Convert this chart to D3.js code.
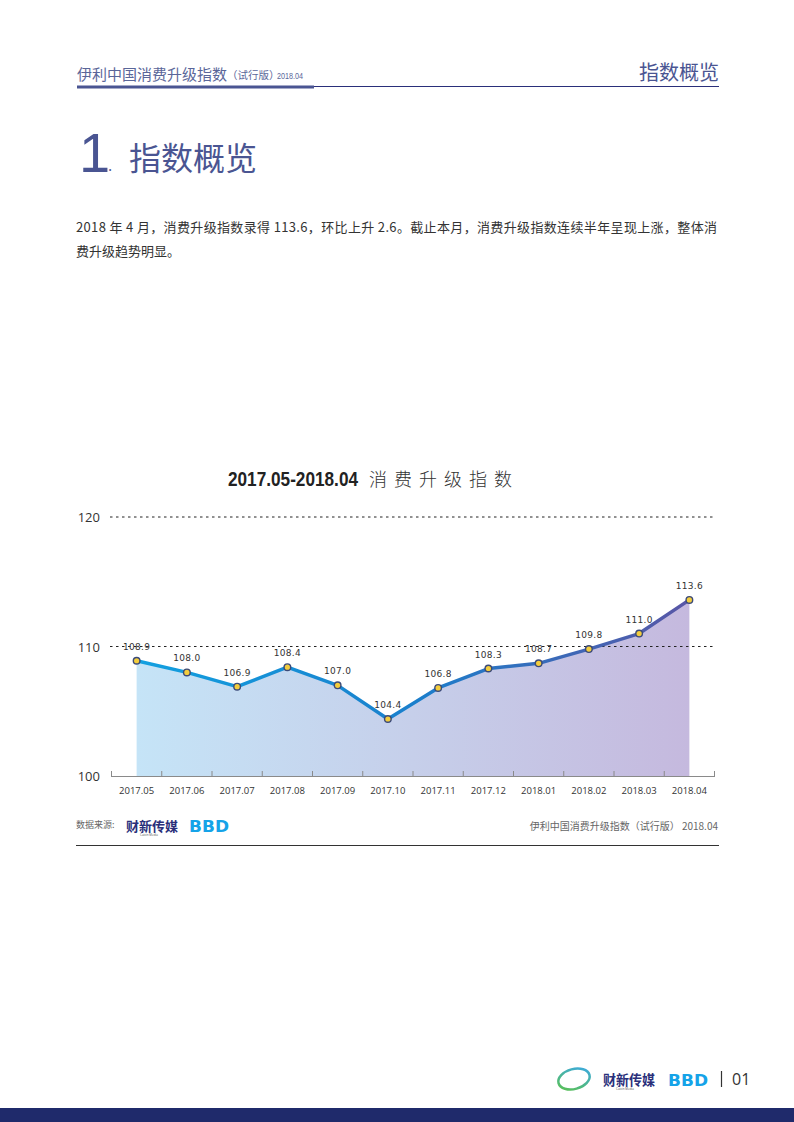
<!DOCTYPE html>
<html><head><meta charset="utf-8">
<script src="https://cdn.jsdelivr.net/npm/d3@7/dist/d3.min.js"></script>
<style>
html,body{margin:0;padding:0;background:#fff;}
svg{display:block;}
</style></head>
<body>
<svg id="page" width="794" height="1122"></svg>
<script>
const months = ["2017.05","2017.06","2017.07","2017.08","2017.09","2017.10","2017.11","2017.12","2018.01","2018.02","2018.03","2018.04"];
const values = [108.9,108.0,106.9,108.4,107.0,104.4,106.8,108.3,108.7,109.8,111.0,113.6];
const yTicks = [100,110,120];

const svg = d3.select("#page");
const CJK = "'Noto Sans CJK SC','Noto Sans',sans-serif";
const NUM = "'Open Sans','Noto Sans',sans-serif";
const navy = "#4a5592";

// ---------- header ----------
svg.append("text").attr("x",77).attr("y",80).attr("font-family",CJK).attr("font-size",15)
  .attr("fill","#5a6699").text("伊利中国消费升级指数");
svg.append("text").attr("x",227).attr("y",79).attr("font-family",CJK).attr("font-size",10.5)
  .attr("fill","#5a6699").text("（试行版）");
svg.append("text").attr("x",277).attr("y",79).attr("font-family","'Liberation Sans Narrow','Liberation Sans',sans-serif").attr("font-size",9)
  .attr("fill","#5a6699").attr("textLength",26).attr("lengthAdjust","spacingAndGlyphs").text("2018.04");
svg.append("rect").attr("x",77).attr("y",85.5).attr("width",237).attr("height",3).attr("fill","#4a5592");
svg.append("line").attr("x1",314).attr("x2",719).attr("y1",86.5).attr("y2",86.5).attr("stroke","#2a2f7a").attr("stroke-width",1.2);
svg.append("text").attr("x",719).attr("y",80).attr("text-anchor","end").attr("font-family",CJK).attr("font-size",20)
  .attr("fill",navy).text("指数概览");

// ---------- section title ----------
svg.append("text").attr("x",79).attr("y",172).attr("font-family","'Liberation Sans',sans-serif").attr("font-size",56)
  .attr("fill",navy).text("1");
svg.append("text").attr("x",108).attr("y",171).attr("font-family",NUM).attr("font-size",16)
  .attr("fill",navy).text(".");
svg.append("text").attr("x",129).attr("y",170).attr("font-family",CJK).attr("font-size",32)
  .attr("fill",navy).text("指数概览");

// ---------- body ----------
svg.append("text").attr("x",76).attr("y",232).attr("font-family",CJK).attr("font-size",13)
  .attr("fill","#333").attr("textLength",641).attr("lengthAdjust","spacing")
  .text("2018 年 4 月，消费升级指数录得 113.6，环比上升 2.6。截止本月，消费升级指数连续半年呈现上涨，整体消");
svg.append("text").attr("x",76).attr("y",256).attr("font-family",CJK).attr("font-size",13)
  .attr("fill","#333").text("费升级趋势明显。");

// ---------- chart title ----------
svg.append("text").attr("x",228).attr("y",486).attr("font-family","'Liberation Sans Narrow','Liberation Sans',sans-serif").attr("font-weight","bold")
  .attr("font-size",20).attr("fill","#222").attr("textLength",130).attr("lengthAdjust","spacingAndGlyphs")
  .text("2017.05-2018.04");
svg.append("text").attr("x",369).attr("y",486).attr("font-family",CJK).attr("font-weight",300)
  .attr("font-size",18).attr("letter-spacing",7).attr("fill","#333").text("消费升级指数");

// ---------- chart ----------
const x = d3.scaleBand().domain(months).range([111.5,714.5]);
const y = d3.scaleLinear().domain([100,120]).range([776,517]);
const cx = d => x(d) + x.bandwidth()/2;

const defs = svg.append("defs");
const ag = defs.append("linearGradient").attr("id","areaG").attr("gradientUnits","userSpaceOnUse")
  .attr("x1",cx(months[0])).attr("x2",cx(months[11])).attr("y1",0).attr("y2",0);
ag.append("stop").attr("offset","0%").attr("stop-color","#c5e4f7");
ag.append("stop").attr("offset","50%").attr("stop-color","#c6cfea");
ag.append("stop").attr("offset","100%").attr("stop-color","#c5b9de");
const lg = defs.append("linearGradient").attr("id","lineG").attr("gradientUnits","userSpaceOnUse")
  .attr("x1",cx(months[0])).attr("x2",cx(months[11])).attr("y1",0).attr("y2",0);
lg.append("stop").attr("offset","0%").attr("stop-color","#12a0e0");
lg.append("stop").attr("offset","50%").attr("stop-color","#1a7fcc");
lg.append("stop").attr("offset","100%").attr("stop-color","#5956a6");

const data = months.map((m,i)=>({m, v: values[i]}));

svg.append("path").datum(data)
  .attr("d", d3.area().x(d=>cx(d.m)).y0(y(100)).y1(d=>y(d.v)))
  .attr("fill","url(#areaG)");

// gridlines
svg.append("g").selectAll("line").data(yTicks.filter(t=>t>100)).join("line")
  .attr("x1",110).attr("x2",714).attr("y1",d=>y(d)).attr("y2",d=>y(d))
  .attr("stroke","#222").attr("stroke-width",1).attr("stroke-dasharray","2.5,3.5");

// y labels
svg.append("g").selectAll("text").data(yTicks).join("text")
  .attr("x",100).attr("y",d=>y(d)+5).attr("text-anchor","end")
  .attr("font-family",NUM).attr("font-size",13).attr("fill","#333").text(d=>d);

// x axis
const xAxis = d3.axisBottom(x).tickSize(0).tickPadding(0);
const gx = svg.append("g").attr("transform",`translate(0,${y(100)})`).call(xAxis);
gx.select(".domain").remove();
gx.selectAll("text").attr("font-family",NUM).attr("font-size",9.5).attr("fill","#333").attr("dy",0).attr("y",18);
svg.append("line").attr("x1",111).attr("x2",715).attr("y1",776.5).attr("y2",776.5).attr("stroke","#8a8a8a").attr("stroke-width",1.2);
const tickXs = months.map(m=>x(m)).concat([x(months[11])+x.bandwidth()]);
svg.append("g").selectAll("line").data(tickXs).join("line")
  .attr("x1",d=>d).attr("x2",d=>d).attr("y1",771).attr("y2",776.5).attr("stroke","#8a8a8a").attr("stroke-width",1);

// line
svg.append("path").datum(data)
  .attr("d", d3.line().x(d=>cx(d.m)).y(d=>y(d.v)))
  .attr("fill","none").attr("stroke","url(#lineG)").attr("stroke-width",3.5).attr("stroke-linejoin","round");

// markers
svg.append("g").selectAll("circle").data(data).join("circle")
  .attr("cx",d=>cx(d.m)).attr("cy",d=>y(d.v)).attr("r",3.3)
  .attr("fill","#f3cd3d").attr("stroke","#3b4a78").attr("stroke-width",1.4);

// value labels
svg.append("g").selectAll("text").data(data).join("text")
  .attr("x",d=>cx(d.m)).attr("y",d=>y(d.v)-11).attr("text-anchor","middle")
  .attr("font-family","'DejaVu Sans',sans-serif").attr("font-size",9).attr("letter-spacing",0.3)
  .attr("fill","#333").text(d=>d.v.toFixed(1));

// ---------- source row ----------
svg.append("text").attr("x",76).attr("y",828).attr("font-family",CJK).attr("font-size",9)
  .attr("fill","#666").text("数据来源:");
svg.append("text").attr("x",126).attr("y",831).attr("font-family",CJK).attr("font-weight","bold").attr("font-size",13)
  .attr("fill","#2a2f7a").attr("textLength",52).attr("lengthAdjust","spacingAndGlyphs").text("财新传媒");
svg.append("text").attr("x",140).attr("y",836).attr("font-family",NUM).attr("font-size",3)
  .attr("fill","#555").text("Caixin Media");
svg.append("text").attr("x",189).attr("y",832).attr("font-family","'DejaVu Sans',sans-serif").attr("font-weight","bold").attr("font-size",16)
  .attr("fill","#15a3e8").attr("textLength",40).attr("lengthAdjust","spacingAndGlyphs").text("BBD");
svg.append("text").attr("x",718).attr("y",830).attr("text-anchor","end").attr("font-family",CJK).attr("font-size",10)
  .attr("fill","#666").text("伊利中国消费升级指数（试行版） 2018.04");
svg.append("line").attr("x1",76).attr("x2",719).attr("y1",845.5).attr("y2",845.5).attr("stroke","#333").attr("stroke-width",1.2);

// ---------- footer ----------
const eg = defs.append("linearGradient").attr("id","ringG").attr("x1","0%").attr("x2","100%").attr("y1","100%").attr("y2","0%");
eg.append("stop").attr("offset","0%").attr("stop-color","#5cc24a");
eg.append("stop").attr("offset","100%").attr("stop-color","#3aa8e8");
svg.append("ellipse").attr("cx",574).attr("cy",1079).attr("rx",16).attr("ry",10)
  .attr("transform","rotate(-15,574,1079)").attr("fill","none").attr("stroke","url(#ringG)").attr("stroke-width",2.5);
svg.append("text").attr("x",603).attr("y",1085).attr("font-family",CJK).attr("font-weight","bold").attr("font-size",14)
  .attr("fill","#2a2f7a").attr("textLength",52).attr("lengthAdjust","spacingAndGlyphs").text("财新传媒");
svg.append("text").attr("x",616).attr("y",1090).attr("font-family",NUM).attr("font-size",3)
  .attr("fill","#555").text("Caixin Media");
svg.append("text").attr("x",668).attr("y",1086).attr("font-family","'DejaVu Sans',sans-serif").attr("font-weight","bold").attr("font-size",16)
  .attr("fill","#15a3e8").attr("textLength",40).attr("lengthAdjust","spacingAndGlyphs").text("BBD");
svg.append("line").attr("x1",721.5).attr("x2",721.5).attr("y1",1071).attr("y2",1087).attr("stroke","#333").attr("stroke-width",1.2);
svg.append("text").attr("x",732).attr("y",1085).attr("font-family",NUM).attr("font-size",16)
  .attr("fill","#333").text("01");
svg.append("rect").attr("x",0).attr("y",1108).attr("width",794).attr("height",14).attr("fill","#1f2a6b");
</script>
</body></html>
